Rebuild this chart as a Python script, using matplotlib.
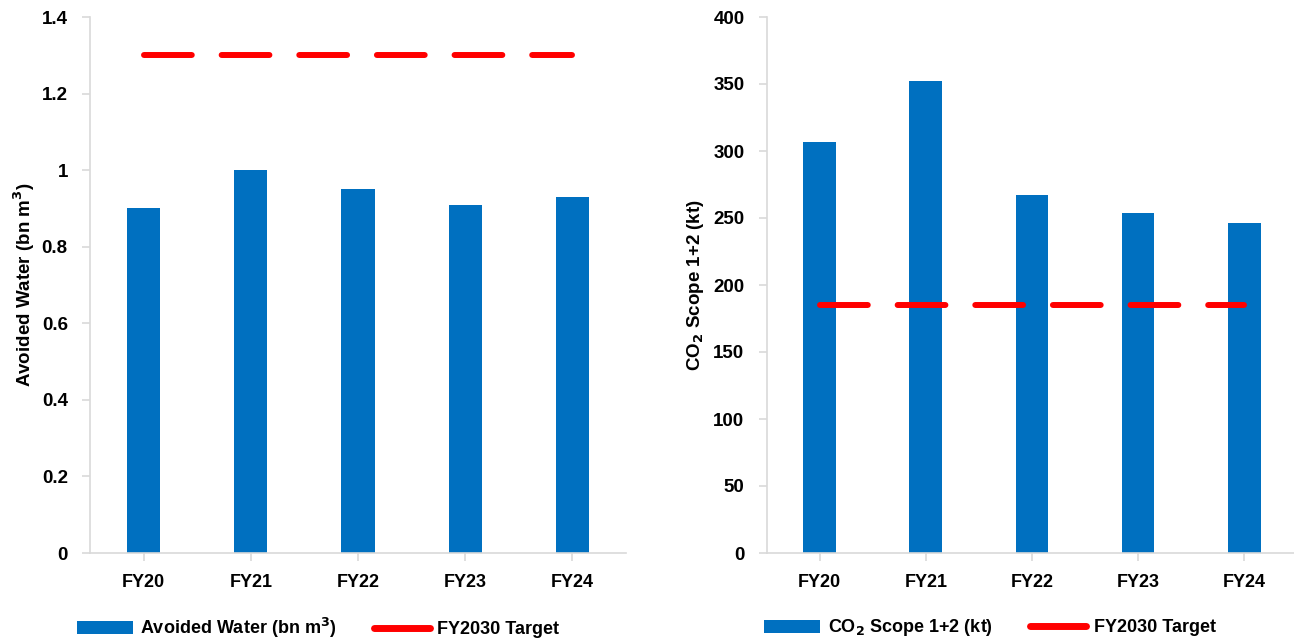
import matplotlib
matplotlib.use("Agg")
import matplotlib.pyplot as plt
from matplotlib.patches import Patch
from matplotlib.lines import Line2D

categories = ["FY20", "FY21", "FY22", "FY23", "FY24"]
avoided_water = [0.90, 1.00, 0.95, 0.91, 0.93]
water_target = [1.3, 1.3, 1.3, 1.3, 1.3]
co2_scope12 = [307, 352, 267, 254, 246]
co2_target = [185, 185, 185, 185, 185]
water_ticks = [0, 0.2, 0.4, 0.6, 0.8, 1, 1.2, 1.4]
water_ticklabels = ["0", "0.2", "0.4", "0.6", "0.8", "1", "1.2", "1.4"]
co2_ticks = [0, 50, 100, 150, 200, 250, 300, 350, 400]

BLUE = "#0070C0"
RED = "#FF0000"
GRAY = "#D9D9D9"

plt.rcParams['font.family'] = ['Liberation Sans', 'DejaVu Sans']

W, H = 1294, 641
fig = plt.figure(figsize=(W/100, H/100), dpi=100)
ax1 = fig.add_axes([90/W, 1-553/H, 536/W, 536/H])
ax2 = fig.add_axes([766.7/W, 1-553/H, 530.5/W, 536/H])

x = list(range(len(categories)))

def style(ax, ylim, ticks, labels, ylabel, labelpad):
    ax.set_xlim(-0.5, len(categories)-0.5)
    ax.set_ylim(*ylim)
    ax.set_yticks(ticks)
    ax.set_yticklabels(labels, fontsize=13.5, fontweight='bold')
    ax.set_xticks(x)
    ax.set_xticklabels(categories, fontsize=13, fontweight='bold')
    for s in ['top', 'right']:
        ax.spines[s].set_visible(False)
    for s in ['left', 'bottom']:
        ax.spines[s].set_color(GRAY)
        ax.spines[s].set_linewidth(1.2)
    ax.tick_params(axis='y', length=6, width=1.2, color=GRAY, pad=10)
    ax.tick_params(axis='x', length=6, width=1.2, color=GRAY, pad=9)
    ax.set_ylabel(ylabel, fontsize=13.5, fontweight='bold', labelpad=labelpad)

ax1.bar(x, avoided_water, width=0.31, color=BLUE, zorder=2)
ax1.plot(x, water_target, color=RED, lw=4.3, dashes=(8, 5), dash_capstyle='round', zorder=3)
style(ax1, (0, 1.4), water_ticks, water_ticklabels, r"Avoided Water (bn m$^\mathbf{3}$)", 3)

ax2.bar(x, co2_scope12, width=0.31, color=BLUE, zorder=2)
ax2.plot(x, co2_target, color=RED, lw=4.3, dashes=(8, 5), dash_capstyle='round', zorder=3)
style(ax2, (0, 400), co2_ticks, [str(t) for t in co2_ticks], r"CO$_\mathbf{2}$ Scope 1+2 (kt)", 5)

legfont = {'family': ['Liberation Sans', 'DejaVu Sans'], 'weight': 'bold', 'size': 13}

def make_legend(label, cx):
    handles = [Patch(facecolor=BLUE, edgecolor='none'),
               Line2D([0], [0], color=RED, lw=5, solid_capstyle='round')]
    fig.legend(handles, [label, "FY2030 Target"], loc='center', bbox_to_anchor=(cx, 1-628/H),
               ncol=2, frameon=False, prop=legfont, handlelength=3.1, handleheight=0.75,
               handletextpad=0.4, columnspacing=2.1, borderpad=0.2)

make_legend(r"Avoided Water (bn m$^\mathbf{3}$)", 318/W)
make_legend(r"CO$_\mathbf{2}$ Scope 1+2 (kt)", 990/W)

fig.savefig("out.png", dpi=100)
